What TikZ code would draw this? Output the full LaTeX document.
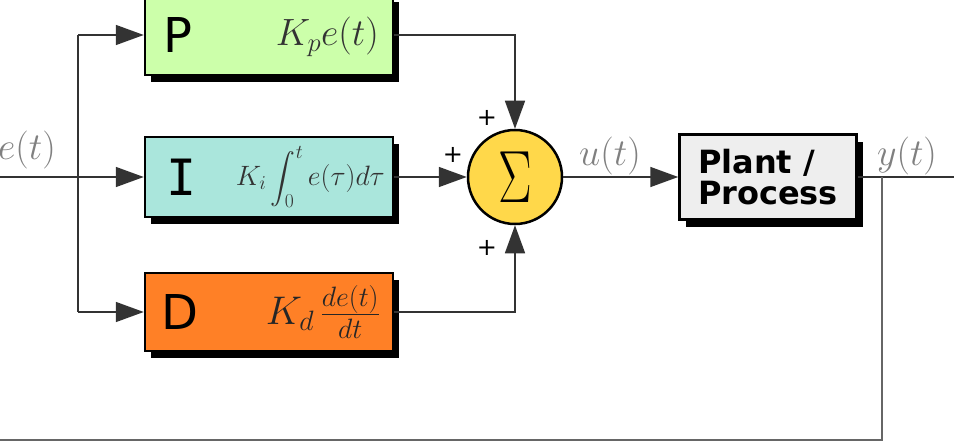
\RequirePackage{fix-cm}
\documentclass[tikz,border=0pt]{standalone}
\usepackage{exscale}
\usepackage{fontspec}
\setsansfont{DejaVu Sans}
\newfontfamily\monoI{DejaVu Sans Mono}
\usepackage{graphicx}
\usetikzlibrary{arrows.meta,shadows}
\definecolor{pgreen}{HTML}{CCFFAA}
\definecolor{icyan}{HTML}{AAE6DC}
\definecolor{dorange}{HTML}{FF8026}
\definecolor{sumyellow}{HTML}{FFD84A}
\definecolor{plantgray}{HTML}{EEEEEE}
\definecolor{lblgray}{HTML}{808080}
\tikzset{
  blk/.style={draw=black, line width=2.5pt, minimum width=248pt, minimum height=80pt, inner sep=0pt,
    drop shadow={shadow xshift=6pt, shadow yshift=-7pt, fill=black, opacity=1}},
  conn/.style={line width=1.6pt, draw=black!80},
  arr/.style={conn, -{Triangle[length=28pt,width=20pt]}},
  fb/.style={line width=2.6pt, draw=black!60},
  sig/.style={text=lblgray, font=\fontsize{38}{40}\selectfont},
  plus/.style={font=\sffamily\fontsize{24}{24}\selectfont, inner sep=0pt},
}
\begin{document}
\begin{tikzpicture}[x=1pt,y=-1pt]
\useasboundingbox (0,0) rectangle (954,444);
% boxes
\node[blk, fill=pgreen] (P) at (269,35) {};
\node[blk, fill=icyan] (I) at (269,177) {};
\node[blk, fill=dorange, minimum height=78pt] (D) at (269,312) {};
\node[draw=black, line width=2.5pt, fill=sumyellow, circle, minimum size=94pt, inner sep=0pt] (S) at (515,177)
  {\scalebox{0.68}[1]{\fontsize{74}{76}\selectfont$\Sigma$}};
\node[draw=black, line width=2.5pt, fill=plantgray, minimum width=177pt, minimum height=85pt, inner sep=0pt,
  drop shadow={shadow xshift=6pt, shadow yshift=-7pt, fill=black, opacity=1},
  align=left, font=\sffamily\bfseries\fontsize{32}{31}\selectfont] (G) at (768,177) {Plant /\\Process};
% box labels
\node[anchor=west, font=\sffamily\fontsize{48}{50}\selectfont, inner sep=0pt] (Pl) at (163,35) {P};
\node[anchor=east, inner sep=0pt, text=black!80] (Pk) at (379,37) {\fontsize{38}{40}\selectfont $K_p e(t)$};
\node[anchor=west, inner sep=0pt] (Il) at (166,177) {\monoI\fontsize{50}{52}\selectfont I};
\node[anchor=east, inner sep=0pt, text=black!80] (Ik) at (385,177) {\fontsize{28}{30}\selectfont $K_i\displaystyle\int_0^t e(\tau)d\tau$};
\node[anchor=west, font=\sffamily\fontsize{48}{50}\selectfont, inner sep=0pt] (Dl) at (161,312) {D};
\node[anchor=east, inner sep=0pt, text=black!85] (Dk) at (380,312) {\fontsize{40}{42}\selectfont $K_d\,\frac{de(t)}{dt}$};
% signal labels
\node[sig, anchor=east, inner sep=0pt] (et) at (56,150) {$e(t)$};
\node[sig, inner sep=0pt] (ut) at (610,156) {$u(t)$};
\node[sig, inner sep=0pt] (yt) at (907,156) {$y(t)$};
\node[plus] (p1) at (487,118) {+};
\node[plus] (p2) at (453,155) {+};
\node[plus] (p3) at (487,248) {+};
% coordinates
\coordinate (in) at (0,177);
\coordinate (j) at (78,177);
\coordinate (jt) at (78,35);
\coordinate (jb) at (78,312);
\coordinate (out) at (954,177);
\coordinate (fbt) at (882,177);
\coordinate (fbb) at (882,440);
\coordinate (fbl) at (0,440);
% connectors
\draw[conn] (in) -- (j);
\draw[arr] (j) -- (I.west);
\draw[conn] (jt) -- (jb);
\draw[arr] (jt) -- (P.west);
\draw[arr] (jb) -- (D.west);
\draw[arr] (P.east) -| (S.north);
\draw[arr] (I.east) -- (S.west);
\draw[arr] (D.east) -| (S.south);
\draw[arr] (S.east) -- (G.west);
\draw[conn] (G.east) -- (out);
\draw[fb] (fbt) -- (fbb) -- (fbl);
\end{tikzpicture}
\end{document}
